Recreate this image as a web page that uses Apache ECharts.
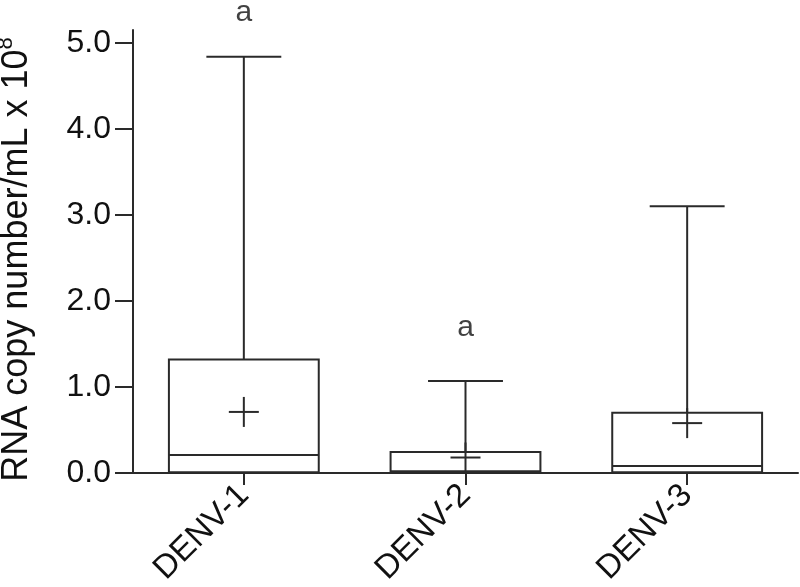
<!DOCTYPE html>
<html>
<head>
<meta charset="utf-8">
<script src="https://cdn.jsdelivr.net/npm/echarts@6/dist/echarts.min.js"></script>
<style>
html, body { margin: 0; padding: 0; background: #fff; }
#main { width: 800px; height: 587px; }
</style>
</head>
<body>
<div id="main"></div>
<script>
var categories = ['DENV-1', 'DENV-2', 'DENV-3'];
var whiskerLow = [0, 0, 0];
var q1 = [0.01, 0.01, 0.01];
var medians = [0.21, 0.02, 0.08];
var q3 = [1.32, 0.245, 0.70];
var whiskerHigh = [4.84, 1.07, 3.10];
var means = [0.71, 0.18, 0.58];
var sigLetters = ['a', 'a', ''];
var sigLetterY = [5.35, 1.69, null];
var yTicks = [0, 1, 2, 3, 4, 5];

var myChart = echarts.init(document.getElementById('main'));

var FONT = '"Liberation Sans", Arial, sans-serif';
var INK = '#2a2a2a';

// box data : [cat, low, q1, median, q3, high, mean]
var boxData = [];
for (var i = 0; i < categories.length; i++) {
    boxData.push([i, whiskerLow[i], q1[i], medians[i], q3[i], whiskerHigh[i], means[i]]);
}

var letterData = [];
for (var k = 0; k < sigLetters.length; k++) {
    if (sigLetters[k]) letterData.push([k, sigLetterY[k], sigLetters[k]]);
}

function renderBox(params, api) {
    var x = api.value(0);
    var pLow = api.coord([x, api.value(1)]);
    var pQ1 = api.coord([x, api.value(2)]);
    var pMed = api.coord([x, api.value(3)]);
    var pQ3 = api.coord([x, api.value(4)]);
    var pHigh = api.coord([x, api.value(5)]);
    var pMean = api.coord([x, api.value(6)]);
    var band = api.size([1, 0])[0];
    var half = band * 0.338;
    var cap = half / 2;
    var cross = 15;
    var cx = pQ1[0];
    var style = { stroke: INK, lineWidth: 2, fill: null };

    function line(x1, y1, x2, y2) {
        return { type: 'line', shape: { x1: x1, y1: y1, x2: x2, y2: y2 }, style: style };
    }

    return {
        type: 'group',
        children: [
            { type: 'rect', shape: { x: cx - half, y: pQ3[1], width: half * 2, height: pQ1[1] - pQ3[1] }, style: style },
            line(cx - half, pMed[1], cx + half, pMed[1]),
            line(cx, pQ3[1], cx, pHigh[1]),
            line(cx - cap, pHigh[1], cx + cap, pHigh[1]),
            line(cx, pQ1[1], cx, pLow[1]),
            line(cx - cross, pMean[1], cx + cross, pMean[1]),
            line(cx, pMean[1] - cross, cx, pMean[1] + cross)
        ]
    };
}

var option = {
    backgroundColor: '#fff',
    animation: false,
    grid: { left: 133, right: 2, top: 30, bottom: 114, containLabel: false, outerBoundsMode: 'none' },
    xAxis: {
        type: 'category',
        data: categories,
        boundaryGap: true,
        axisLine: { show: true, lineStyle: { color: INK, width: 2 } },
        axisTick: { show: true, alignWithLabel: true, length: 12, lineStyle: { color: INK, width: 2 } },
        axisLabel: { rotate: 45, fontSize: 33, margin: 17, color: '#111', fontFamily: FONT },
        splitLine: { show: false }
    },
    yAxis: {
        type: 'value',
        min: 0,
        max: 5.15,
        name: '{n|RNA copy number/mL x 10}{s|8}',
        nameLocation: 'middle',
        nameRotate: 90,
        nameGap: 98,
        nameTextStyle: {
            color: '#111',
            fontFamily: FONT,
            padding: [0, 16, 0, 0],
            rich: {
                n: { fontSize: 36, fontFamily: FONT, color: '#111', verticalAlign: 'bottom', lineHeight: 40 },
                s: { fontSize: 22, fontFamily: FONT, color: '#111', verticalAlign: 'top', lineHeight: 40 }
            }
        },
        axisLine: { show: true, lineStyle: { color: INK, width: 2 } },
        axisTick: { show: true, length: 18, customValues: yTicks, lineStyle: { color: INK, width: 2 } },
        axisLabel: {
            customValues: yTicks,
            fontSize: 32,
            margin: 22,
            color: '#111',
            fontFamily: FONT,
            formatter: function (v) { return v.toFixed(1); }
        },
        splitLine: { show: false }
    },
    series: [
        {
            type: 'custom',
            renderItem: renderBox,
            data: boxData,
            encode: { x: 0, y: [1, 2, 3, 4, 5, 6] },
            clip: false
        },
        {
            type: 'scatter',
            data: letterData,
            symbolSize: 0,
            clip: false,
            label: {
                show: true,
                position: 'inside',
                formatter: function (p) { return p.value[2]; },
                fontSize: 30,
                color: '#111',
                fontFamily: FONT
            }
        }
    ]
};

myChart.setOption(option);
</script>
</body>
</html>
